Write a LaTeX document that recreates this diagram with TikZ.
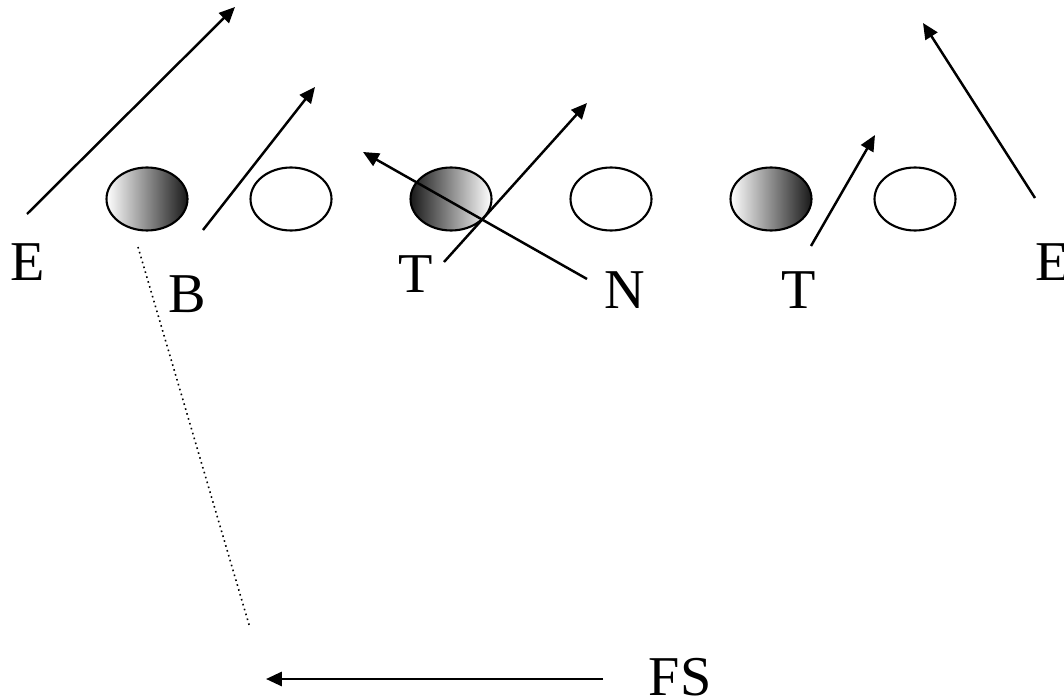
\documentclass[tikz,border=0pt]{standalone}
\usepackage{fontspec}
\setmainfont{Liberation Serif}
\usepackage{tikz}
\usetikzlibrary{arrows.meta,positioning,shapes.geometric}

\begin{document}
\begin{tikzpicture}[
    x=0.02cm, y=-0.02cm,
    lineman/.style={ellipse, draw=black, line width=1.2pt, minimum width=1.62cm, minimum height=1.26cm, inner sep=0},
    shadeR/.style={lineman, left color=white, right color=black!90},
    shadeL/.style={lineman, left color=black!90, right color=white},
    lbl/.style={font=\fontsize{32}{36}\selectfont, inner sep=0, anchor=base},
    arr/.style={-{Triangle[length=9pt,width=8pt]}, line width=1.4pt},
    route/.style={line width=1.4pt}
]
    \useasboundingbox (0,0) rectangle (1064,699);
    % line
    \node[shadeR]  (ol1) at (147,199) {};
    \node[lineman] (ol2) at (291,199) {};
    \node[shadeL]  (ol3) at (451,199) {};
    \node[lineman] (ol4) at (611,199) {};
    \node[shadeR]  (ol5) at (771,199) {};
    \node[lineman] (ol6) at (915,199) {};
    % labels
    \node[lbl] (eL) at (28,280) {E};
    \node[lbl] (bk) at (187,312) {B};
    \node[lbl] (tL) at (416,292) {T};
    \node[lbl] (nt) at (625,308) {N};
    \node[lbl] (tR) at (799,308) {T};
    \node[lbl, anchor=base west] (eR) at (1035,280) {E};
    \node[lbl] (fs) at (680,695) {FS};
    % routes
    \coordinate (eLs) at (27,214);   \coordinate (eLt) at (235,7);
    \coordinate (bks) at (203,230);  \coordinate (bkt) at (315,87);
    \coordinate (tLs) at (444,262);  \coordinate (tLt) at (587,103);
    \coordinate (nts) at (587,279);  \coordinate (ntt) at (363,152);
    \coordinate (tRs) at (811,246);  \coordinate (tRt) at (875,135);
    \coordinate (eRs) at (1035,198); \coordinate (eRt) at (923,23);
    \coordinate (fss) at (603,679);  \coordinate (fst) at (266,679);
    \coordinate (ds) at (138,247);   \coordinate (dt) at (250,628);
    \draw[arr] (eLs) -- (eLt);
    \draw[arr] (bks) -- (bkt);
    \draw[arr] (tLs) -- (tLt);
    \draw[arr] (nts) -- (ntt);
    \draw[arr] (tRs) -- (tRt);
    \draw[arr] (eRs) -- (eRt);
    \draw[arr] (fss) -- (fst);
    \draw[dotted, line width=0.9pt] (ds) -- (dt);
\end{tikzpicture}
\end{document}
